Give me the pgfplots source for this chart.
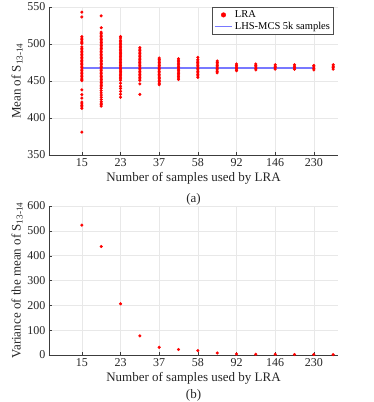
\documentclass[border=0pt]{standalone}
\usepackage{pgfplots}
\pgfplotsset{compat=1.18}
\usepackage{fontspec}
\setmainfont{Liberation Serif}
\definecolor{lraRed}{RGB}{255,0,0}
\definecolor{mcsBlue}{RGB}{120,120,255}
\definecolor{gridGray}{RGB}{232,232,232}
\definecolor{axGray}{RGB}{60,60,60}

\pgfplotsset{lrastyle/.style={
    scale only axis, width=289pt,
    xmin=-1.7, xmax=13.25,
    xtick={0,2,4,6,8,10,12}, xticklabels={15,23,37,58,92,146,230},
    axis lines*=left, axis line style={axGray},
    tick style={axGray}, tick align=inside, major tick length=3pt,
    xmajorgrids=true, ymajorgrids=true, grid style={gridGray, line width=0.6pt},
    tick label style={font=\fontsize{12}{14}\selectfont, black!85},
    label style={font=\fontsize{13}{15}\selectfont, black!85},
    /pgf/number format/assume math mode=true,
    xlabel={Number of samples used by LRA},
    xlabel style={yshift=1.5pt},
    ylabel style={yshift=-2pt},
  }}

\begin{document}
\begin{tikzpicture}
  \useasboundingbox (-49pt,-247pt) rectangle (325pt,155pt);
  \begin{axis}[lrastyle, height=148pt, at={(0,0)}, anchor=south west,
      ymin=350, ymax=550, ytick={350,400,...,550},
      ylabel={Mean of S\textsubscript{13-14}},
      legend style={at={(rel axis cs:0.985,1)}, anchor=north east, font=\fontsize{10.5}{12}\selectfont,
                    draw=black!70, inner sep=1.5pt, row sep=-1pt, legend cell align=left},
      legend image code/.code={}]
    \addplot[only marks, mark=*, mark size=1.35pt, color=lraRed,
      legend image code/.code={\fill[lraRed] (0.3cm,0) circle (2.3pt);}]
      table {
x y
0 543
0 536.5
0 510
0 508
0 506
0 504
0 502
0 500.5
0 496
0 494
0 492
0 490
0 488
0 486
0 484
0 482
0 480
0 478
0 476
0 474
0 472
0 470
0 468
0 466
0 464
0 462
0 460
0 458
0 456
0 454
0 452
0 450.5
0 438
0 431.5
0 427
0 421.5
0 419
0 417
0 415
0 413
0 381
1 538
1 522
1 516
1 514
1 512
1 510
1 508
1 506
1 504
1 502
1 500
1 498
1 496
1 494
1 492
1 490
1 488
1 486
1 484
1 482
1 480
1 478
1 476
1 474
1 472
1 470
1 468
1 466
1 464
1 462
1 460
1 458
1 456
1 454
1 452
1 450
1 448
1 446
1 444
1 442
1 440
1 437
1 434
1 431
1 428
1 425
1 422
1 420
1 418
1 416
2 510
2 508
2 505
2 503
2 501
2 499
2 497
2 495
2 493
2 491
2 489
2 487
2 485
2 483
2 481
2 479
2 477
2 475
2 473
2 471
2 469
2 467
2 465
2 463
2 461
2 459
2 457
2 455
2 453
2 451
2 447
2 443
2 440
2 436
2 432
2 428
3 495
3 493
3 491
3 489
3 487
3 485
3 483
3 481
3 479
3 477
3 475
3 473
3 471
3 469
3 467
3 465
3 463
3 461
3 459
3 457
3 455
3 453
3 451
3 446
3 432
4 481
4 479
4 477
4 475
4 473
4 471
4 469
4 467
4 465
4 463
4 461
4 459
4 457
4 455
4 453
4 451
4 449
4 447
4 445
5 480
5 478
5 476
5 474
5 472
5 470
5 468
5 466
5 464
5 462
5 460
5 458
5 456
5 454
5 452
6 482
6 479
6 477
6 475
6 473
6 471
6 469
6 467
6 465
6 463
6 461
6 459
6 457
6 455
7 477
7 475
7 473
7 471
7 469
7 467
7 465
7 463
7 461
8 473
8 471
8 469
8 467
8 465
8 464
9 473
9 471
9 469
9 467
9 465
10 472
10 470
10 468
10 466
11 472
11 470
11 468
11 466
12 471
12 469
12 467
12 465
13 472
13 470
13 468
13 466
      };
    \addlegendentry{LRA}
    \addplot[mcsBlue, no marks, line width=1.7pt, forget plot] coordinates {(0,468) (12,468)};
    \addlegendimage{mcsBlue, line width=1.7pt, legend image code/.code={\draw[mcsBlue, line width=1.7pt] (0cm,0) -- (0.6cm,0);}}
    \addlegendentry{LHS-MCS 5k samples}
  \end{axis}
  \node[font=\fontsize{13}{15}\selectfont, black!85] at (144.5pt,-44pt) {(a)};

  \begin{axis}[lrastyle, height=149pt, at={(0,-200pt)}, anchor=south west,
      ymin=0, ymax=600, ytick={0,100,...,600},
      ylabel={Variance of the mean of S\textsubscript{13-14}}]
    \addplot[only marks, mark=*, mark size=1.35pt, color=lraRed]
      coordinates {(0,523) (1,437) (2,206) (3,77) (4,31) (5,22) (6,18) (7,8) (8,4) (9,3) (10,3) (11,2) (12,2) (13,1.5)};
  \end{axis}
  \node[font=\fontsize{13}{15}\selectfont, black!85] at (144.5pt,-240pt) {(b)};
\end{tikzpicture}
\end{document}
